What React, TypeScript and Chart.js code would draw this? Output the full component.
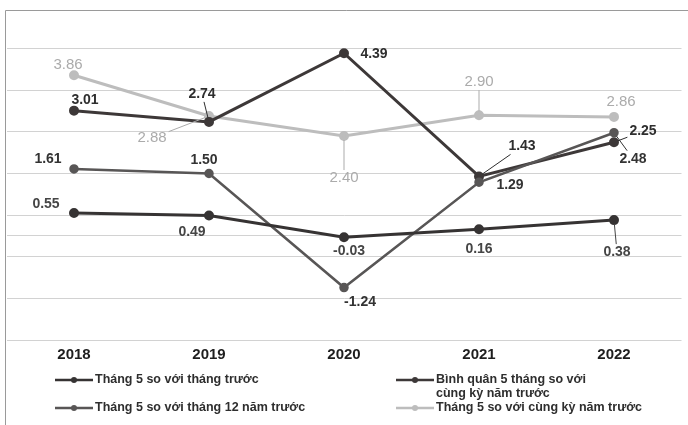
import React, { useEffect, useRef } from "react";
import { Chart, registerables } from "chart.js";

Chart.register(...registerables);

// ---- data ----
const years = ["2018", "2019", "2020", "2021", "2022"];
const monthOnMonth = [0.55, 0.49, -0.03, 0.16, 0.38];
const vsDecember = [1.61, 1.5, -1.24, 1.29, 2.48];
const fiveMonthAvg = [3.01, 2.74, 4.39, 1.43, 2.25];
const yearOnYear = [3.86, 2.88, 2.4, 2.9, 2.86];
const seriesNames = [
  "Tháng 5 so với tháng trước",
  "Tháng 5 so với tháng 12 năm trước",
  "Bình quân 5 tháng so với cùng kỳ năm trước",
  "Tháng 5 so với cùng kỳ năm trước",
];
const legendLines = [
  ["Tháng 5 so với tháng trước"],
  ["Tháng 5 so với tháng 12 năm trước"],
  ["Bình quân 5 tháng so với", "cùng kỳ năm trước"],
  ["Tháng 5 so với cùng kỳ năm trước"],
];

// ---- styles ----
const FONT = '"Liberation Sans Narrow", "Liberation Sans", Arial, sans-serif';
const colors = ["#363333", "#585656", "#3d3838", "#bdbdbd"];
const labelColors = ["#454545", "#333333", "#2e2e2e", "#ababab"];
const labelFonts = [
  `bold 14px ${FONT}`,
  `bold 14px ${FONT}`,
  `bold 14px ${FONT}`,
  `15px ${FONT}`,
];
// label offsets [dx, dy, leader?]
const labelOffsets: [number, number, number][][] = [
  [[-28, -9, 0], [-17, 17, 0], [5, 14, 0], [0, 20, 0], [3, 32, 1]],
  [[-26, -10, 0], [-5, -13, 0], [16, 15, 0], [31, 3, 0], [19, 26, 1]],
  [[11, -11, 0], [-7, -28, 1], [30, 1, 0], [43, -30, 1], [29, -11, 1]],
  [[-6, -10, 0], [-57, 22, 1], [0, 42, 1], [0, -33, 1], [7, -15, 0]],
];

const fmt = (v: number) => v.toFixed(2);

const overlayPlugin = {
  id: "overlay",
  beforeDraw(chart: any) {
    const ctx = chart.ctx;
    ctx.save();
    ctx.fillStyle = "#ffffff";
    ctx.fillRect(0, 0, chart.width, chart.height);
    ctx.strokeStyle = "#9a9a9a";
    ctx.lineWidth = 1;
    ctx.beginPath();
    ctx.moveTo(5.5, 425);
    ctx.lineTo(5.5, 10.5);
    ctx.lineTo(688, 10.5);
    ctx.stroke();
    ctx.restore();
  },
  afterDatasetsDraw(chart: any) {
    const ctx = chart.ctx;
    ctx.save();
    ctx.textAlign = "center";
    ctx.textBaseline = "middle";
    chart.data.datasets.forEach((ds: any, di: number) => {
      const meta = chart.getDatasetMeta(di);
      meta.data.forEach((pt: any, i: number) => {
        const [dx, dy, leader] = labelOffsets[di][i];
        const lx = pt.x + dx;
        const ly = pt.y + dy;
        const text = fmt(ds.data[i]);
        ctx.font = labelFonts[di];
        const hw = ctx.measureText(text).width / 2 + 2;
        const hh = 8;
        if (leader) {
          const len = Math.hypot(dx, dy);
          const ux = dx / len;
          const uy = dy / len;
          const t = Math.min(ux ? hw / Math.abs(ux) : 1e9, uy ? hh / Math.abs(uy) : 1e9);
          ctx.strokeStyle = labelColors[di];
          ctx.lineWidth = 1;
          ctx.beginPath();
          ctx.moveTo(pt.x + ux * 4, pt.y + uy * 4);
          ctx.lineTo(lx - ux * t, ly - uy * t);
          ctx.stroke();
        }
        ctx.fillStyle = labelColors[di];
        ctx.fillText(text, lx, ly);
      });
    });
    ctx.restore();
  },
  afterDraw(chart: any) {
    const ctx = chart.ctx;
    ctx.save();
    ctx.textBaseline = "middle";
    ctx.textAlign = "left";
    ctx.font = `bold 12.5px ${FONT}`;
    const items = [
      { di: 0, x: 55, y: 380 },
      { di: 1, x: 55, y: 408 },
      { di: 2, x: 396, y: 380 },
      { di: 3, x: 396, y: 408 },
    ];
    items.forEach((it) => {
      ctx.strokeStyle = colors[it.di];
      ctx.fillStyle = colors[it.di];
      ctx.lineWidth = 2.5;
      ctx.beginPath();
      ctx.moveTo(it.x, it.y);
      ctx.lineTo(it.x + 38, it.y);
      ctx.stroke();
      ctx.beginPath();
      ctx.arc(it.x + 19, it.y, 3, 0, Math.PI * 2);
      ctx.fill();
      ctx.fillStyle = "#2e2e2e";
      legendLines[it.di].forEach((t, k) => ctx.fillText(t, it.x + 40, it.y + k * 13.5));
    });
    ctx.restore();
  },
};

export default function App() {
  const ref = useRef<HTMLCanvasElement | null>(null);
  useEffect(() => {
    if (!ref.current) return;
    const series = [monthOnMonth, vsDecember, fiveMonthAvg, yearOnYear];
    const chart = new Chart(ref.current, {
      type: "line",
      data: {
        labels: years,
        datasets: series.map((d, i) => ({
          label: seriesNames[i],
          data: d,
          borderColor: colors[i],
          backgroundColor: colors[i],
          borderWidth: i === 1 ? 2.5 : 3,
          pointRadius: 3.5,
          pointHoverRadius: 3.5,
          pointBackgroundColor: colors[i],
          pointBorderColor: colors[i],
          tension: 0,
          fill: false,
        })),
      },
      options: {
        animation: false,
        responsive: false,
        maintainAspectRatio: false,
        layout: { padding: { left: 6, top: 7, right: 0, bottom: 63 } },
        plugins: {
          legend: { display: false },
          tooltip: { enabled: false },
        },
        scales: {
          x: {
            type: "category",
            offset: true,
            grid: { display: false },
            border: { display: false },
            ticks: {
              color: "#1e1e1e",
              padding: -2,
              font: { family: FONT, size: 15, weight: "bold" },
            },
          },
          y: {
            min: -2.5,
            max: 5.5,
            ticks: { display: false, stepSize: 1 },
            afterBuildTicks: (s: any) => {
              const vals: number[] = [];
              for (let v = -2.5; v <= 5.5; v += 1) vals.push(v);
              vals.push(0);
              vals.sort((a, b) => a - b);
              s.ticks = vals.map((v) => ({ value: v }));
            },
            grid: {
              drawTicks: false,
              color: (c: any) => (c.tick && c.tick.value === 5.5 ? "rgba(0,0,0,0)" : "#d2d2d2"),
              lineWidth: 1,
            },
            border: { display: false },
          },
        },
      },
      plugins: [overlayPlugin],
    });
    return () => chart.destroy();
  }, []);
  return (
    <div style={{ position: "absolute", left: 0, top: 0, width: 688, height: 425, background: "#fff" }}>
      <canvas ref={ref} width={688} height={425} />
    </div>
  );
}
